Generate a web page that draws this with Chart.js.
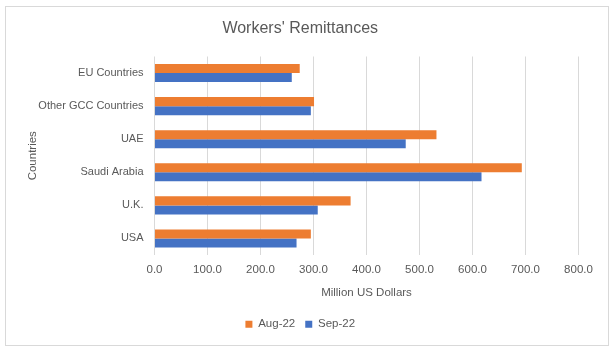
<!DOCTYPE html>
<html>
<head>
<meta charset="utf-8">
<script src="https://cdn.jsdelivr.net/npm/chart.js@4"></script>
<style>
  html, body { margin: 0; padding: 0; background: #fff; }
  #wrap { position: relative; width: 614px; height: 351px; }
  #frame { position: absolute; left: 5px; top: 6px; width: 602px; height: 338px; border: 1px solid #d9d9d9; pointer-events: none; }
  canvas { position: absolute; left: 0; top: 0; }
</style>
</head>
<body>
<div id="wrap">
  <canvas id="c" width="614" height="351"></canvas>
  <div id="frame"></div>
</div>
<script>
const categories = ['EU Countries', 'Other GCC Countries', 'UAE', 'Saudi Arabia', 'U.K.', 'USA'];
const aug22 = [274, 301, 532, 693, 370, 295];
const sep22 = [259, 295, 474, 617, 308, 268];
const seriesNames = ['Aug-22', 'Sep-22'];
const xTicks = [0, 100, 200, 300, 400, 500, 600, 700, 800];

const FONT = 'Liberation Sans';
const TXT = '#595959';

new Chart(document.getElementById('c'), {
  type: 'bar',
  data: {
    labels: categories,
    datasets: [
      { label: seriesNames[0], data: aug22, backgroundColor: '#ED7D31', categoryPercentage: 0.545, barPercentage: 1 },
      { label: seriesNames[1], data: sep22, backgroundColor: '#4472C4', categoryPercentage: 0.545, barPercentage: 1 }
    ]
  },
  options: {
    indexAxis: 'y',
    responsive: false,
    animation: false,
    devicePixelRatio: 1,
    layout: { padding: { left: 22, right: 35.5, top: 10, bottom: 11 } },
    plugins: {
      title: {
        display: true,
        text: "Workers' Remittances",
        color: TXT,
        font: { family: FONT, size: 16, weight: 'normal' },
        padding: { top: 9, bottom: 18.3 }
      },
      legend: {
        position: 'bottom',
        labels: {
          color: TXT,
          font: { family: FONT, size: 11.5 },
          boxWidth: 7, boxHeight: 7,
          padding: 10
        }
      },
      tooltip: { enabled: false }
    },
    scales: {
      x: {
        min: 0, max: 800,
        afterBuildTicks: (s) => { s.ticks = xTicks.map(v => ({ value: v })); },
        afterFit: (s) => { s.height = 53.5; },
        grid: { color: '#d9d9d9', drawTicks: false },
        border: { display: false },
        ticks: {
          color: TXT, font: { family: FONT, size: 11.5 }, padding: 8,
          callback: (v) => Number(v).toFixed(1)
        },
        title: {
          display: true, text: 'Million US Dollars', color: TXT,
          font: { family: FONT, size: 11.5 }, padding: { top: 4, bottom: 9 }
        }
      },
      y: {
        afterFit: (s) => { s.width = 132.5; },
        grid: { display: false, drawTicks: false },
        border: { display: false },
        ticks: { color: TXT, font: { family: FONT, size: 11 }, padding: 11 },
        title: {
          display: true, text: 'Countries', color: TXT,
          font: { family: FONT, size: 11.5 }, padding: { top: 4, bottom: 4 }
        }
      }
    }
  }
});
</script>
</body>
</html>
